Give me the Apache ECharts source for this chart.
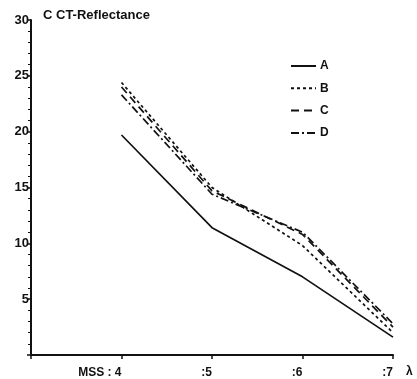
<!DOCTYPE html>
<html>
<head>
<meta charset="utf-8">
<script src="https://cdn.jsdelivr.net/npm/echarts@6/dist/echarts.min.js"></script>
<style>
  html, body { margin: 0; padding: 0; background: #fff; }
  #chart { width: 417px; height: 379px; }
</style>
</head>
<body>
<div id="chart"></div>
<script>
// MSS band positions (x) and the label shown under each
const bands = [4, 5, 6, 7];
const bandLabels = { 4: 'MSS : 4', 5: ':5', 6: ':6', 7: ':7' };

// CCT reflectance per band
const seriesA = [19.7, 11.4, 7.0, 1.6];
const seriesB = [24.4, 15.0, 9.8, 2.0];
const seriesC = [24.0, 14.7, 10.8, 2.5];
const seriesD = [23.3, 14.4, 11.0, 2.8];

const yTicks = [5, 10, 15, 20, 25, 30];

const ink = '#111';
const font = '"Liberation Sans", Arial, sans-serif';

const pairs = vals => bands.map((b, i) => [b, vals[i]]);

const chart = echarts.init(document.getElementById('chart'));

const lineSeries = (name, vals, type) => ({
  name: name,
  type: 'line',
  data: pairs(vals),
  symbol: 'none',
  silent: true,
  animation: false,
  color: ink,
  itemStyle: { color: ink },
  lineStyle: { color: ink, width: 1.7, type: type }
});

chart.setOption({
  backgroundColor: '#fff',
  textStyle: { fontFamily: font },
  title: {
    text: 'C CT-Reflectance',
    left: 38,
    top: 4,
    textStyle: { fontSize: 13, fontWeight: 'bold', color: ink, fontFamily: font }
  },
  legend: {
    orient: 'vertical',
    left: 285,
    top: 55,
    itemWidth: 25,
    itemHeight: 12,
    itemGap: 10.3,
    data: ['A', 'B', 'C', 'D'],
    itemStyle: { opacity: 0 },
    textStyle: { fontSize: 12, fontWeight: 'bold', color: ink, padding: [0, 0, 0, -1] },
    selectedMode: false
  },
  grid: { left: 31, right: 24, top: 20, bottom: 24 },
  xAxis: {
    type: 'value',
    min: 3,
    max: 7,
    interval: 1,
    name: 'λ',
    nameLocation: 'end',
    nameGap: 13,
    nameTextStyle: { fontSize: 12, fontWeight: 'bold', color: ink, verticalAlign: 'top', padding: [11, 0, 0, 0] },
    axisLine: { lineStyle: { color: ink, width: 2 } },
    axisTick: { show: true, length: 4, lineStyle: { color: ink, width: 1.5 } },
    axisLabel: {
      color: ink,
      fontSize: 12,
      fontWeight: 'bold',
      margin: 12,
      align: 'right',
      formatter: v => bandLabels[v] || ''
    },
    splitLine: { show: false }
  },
  yAxis: {
    type: 'value',
    min: 0,
    max: 30,
    interval: 5,
    axisLine: { show: true, lineStyle: { color: ink, width: 2 } },
    axisTick: { show: true, length: 4, lineStyle: { color: ink, width: 1.5 } },
    minorTick: { show: true, splitNumber: 5, length: 3, lineStyle: { color: ink, width: 1 } },
    axisLabel: {
      color: ink,
      fontSize: 13,
      fontWeight: 'bold',
      margin: 2,
      formatter: v => (yTicks.indexOf(v) >= 0 ? String(v) : '')
    },
    splitLine: { show: false }
  },
  series: [
    lineSeries('A', seriesA, 'solid'),
    lineSeries('B', seriesB, [3, 3]),
    lineSeries('C', seriesC, [8, 5]),
    lineSeries('D', seriesD, [8, 3, 2, 3])
  ]
});
</script>
</body>
</html>
